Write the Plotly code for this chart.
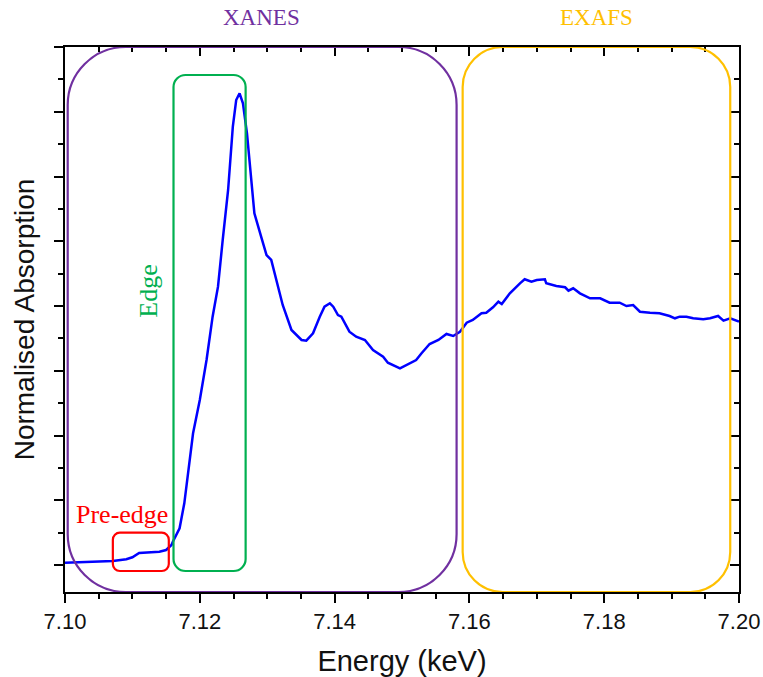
import plotly.graph_objects as go

# ---- data (energy in keV, normalised absorption) ----
energy = [7.1000, 7.1022, 7.1051, 7.1071, 7.1091, 7.1100, 7.1110, 7.1121, 7.1140, 7.1150,
          7.1158, 7.1160, 7.1170, 7.1177, 7.1185, 7.1190, 7.1200, 7.1210, 7.1219, 7.1227,
          7.1234, 7.1242, 7.1249, 7.1254, 7.1259, 7.1264, 7.1270, 7.1276, 7.1281, 7.1291,
          7.1299, 7.1306, 7.1314, 7.1323, 7.1336, 7.1351, 7.1358, 7.1368, 7.1378, 7.1385,
          7.1393, 7.1398, 7.1405, 7.1410, 7.1422, 7.1432, 7.1445, 7.1457, 7.1472, 7.1479,
          7.1497, 7.1512, 7.1521, 7.1529, 7.1541, 7.1554, 7.1566, 7.1576, 7.1586, 7.1596,
          7.1605, 7.1618, 7.1625, 7.1635, 7.1643, 7.1648, 7.1660, 7.1675, 7.1682, 7.1692,
          7.1700, 7.1712, 7.1714, 7.1729, 7.1742, 7.1747, 7.1754, 7.1764, 7.1779, 7.1794,
          7.1808, 7.1823, 7.1833, 7.1843, 7.1853, 7.1868, 7.1882, 7.1897, 7.1905, 7.1912,
          7.1922, 7.1932, 7.1947, 7.1957, 7.1969, 7.1977, 7.1987, 7.2000]
absorption = [0.0071, 0.0083, 0.0108, 0.0124, 0.0176, 0.0238, 0.0371, 0.0380, 0.0411, 0.0463,
              0.0618, 0.0720, 0.1134, 0.1906, 0.3141, 0.4068, 0.5097, 0.6332, 0.7670, 0.8596,
              1.0039, 1.1583, 1.3538, 1.4363, 1.4570, 1.4261, 1.3334, 1.1994, 1.0863, 1.0141,
              0.9575, 0.9421, 0.8803, 0.8031, 0.7259, 0.6950, 0.6928, 0.7157, 0.7670, 0.7978,
              0.8083, 0.7978, 0.7722, 0.7670, 0.7206, 0.7052, 0.6950, 0.6641, 0.6434, 0.6249,
              0.6076, 0.6230, 0.6332, 0.6539, 0.6826, 0.6950, 0.7135, 0.7073, 0.7206, 0.7484,
              0.7568, 0.7775, 0.7793, 0.7960, 0.8133, 0.8062, 0.8392, 0.8701, 0.8825, 0.8751,
              0.8803, 0.8825, 0.8701, 0.8618, 0.8578, 0.8473, 0.8547, 0.8392, 0.8238, 0.8238,
              0.8102, 0.8102, 0.8000, 0.8031, 0.7824, 0.7793, 0.7775, 0.7691, 0.7620, 0.7670,
              0.7670, 0.7620, 0.7589, 0.7620, 0.7691, 0.7546, 0.7620, 0.7515]

region_labels = ["XANES", "EXAFS", "Edge", "Pre-edge"]
x_tickvals = [7.10, 7.12, 7.14, 7.16, 7.18, 7.20]
x_ticktext = ["7.10", "7.12", "7.14", "7.16", "7.18", "7.20"]

# ---- layout geometry ----
XR = [7.10, 7.20]
YR = [-0.0834, 1.6]
PX_X = 673.5 / 0.1      # px per keV
PX_Y = 545.0 / (YR[1] - YR[0])  # px per unit


def rounded_rect(x0, x1, y0, y1, r):
    rx = r / PX_X
    ry = r / PX_Y
    k = 0.5523
    p = [f"M {x0 + rx},{y1}", f"L {x1 - rx},{y1}",
         f"C {x1 - rx + k * rx},{y1} {x1},{y1 - ry + k * ry} {x1},{y1 - ry}",
         f"L {x1},{y0 + ry}",
         f"C {x1},{y0 + ry - k * ry} {x1 - rx + k * rx},{y0} {x1 - rx},{y0}",
         f"L {x0 + rx},{y0}",
         f"C {x0 + rx - k * rx},{y0} {x0},{y0 + ry - k * ry} {x0},{y0 + ry}",
         f"L {x0},{y1 - ry}",
         f"C {x0},{y1 - ry + k * ry} {x0 + rx - k * rx},{y1} {x0 + rx},{y1}", "Z"]
    return " ".join(p)


fig = go.Figure()
fig.add_trace(go.Scatter(x=energy, y=absorption, mode="lines",
                         line=dict(color="#0000ff", width=2.5), showlegend=False,
                         hoverinfo="skip"))
# dummy trace for mirrored (inside-tick) axes
fig.add_trace(go.Scatter(x=[XR[0]], y=[YR[0]], xaxis="x2", yaxis="y2", mode="markers",
                         marker=dict(opacity=0), showlegend=False, hoverinfo="skip"))

boxes = [
    (7.1004, 7.1581, YR[0], YR[1], 58, "#7030a0"),
    (7.1590, 7.1987, YR[0], YR[1], 40, "#ffc000"),
    (7.1161, 7.1268, -0.0185, 1.5135, 12, "#00b050"),
    (7.1071, 7.1154, -0.0185, 0.0998, 7, "#ff0000"),
]
shapes = []
for x0, x1, y0, y1, r, c in boxes:
    shapes.append(dict(type="path", xref="x", yref="y", path=rounded_rect(x0, x1, y0, y1, r),
                       line=dict(color=c, width=2.2), layer="above"))

serif = "Liberation Serif"
annotations = [
    dict(text=region_labels[0], x=7.1292, y=1.055, xref="x", yref="paper", showarrow=False,
         yanchor="middle", xanchor="center",
         font=dict(family=serif, size=23, color="#7030a0")),
    dict(text=region_labels[1], x=7.1788, y=1.055, xref="x", yref="paper", showarrow=False,
         yanchor="middle", xanchor="center",
         font=dict(family=serif, size=23, color="#ffc000")),
    dict(text=region_labels[2], x=7.1124, y=0.846, xref="x", yref="y", showarrow=False,
         yanchor="middle", xanchor="center",
         textangle=-90, font=dict(family=serif, size=26, color="#00b050")),
    dict(text=region_labels[3], x=7.1084, y=0.1575, xref="x", yref="y", showarrow=False,
         yanchor="middle", xanchor="center",
         font=dict(family=serif, size=26, color="#ff0000")),
]

sans = "Liberation Sans"
fig.update_layout(
    width=763, height=677,
    margin=dict(l=65, r=24, t=47, b=85),
    plot_bgcolor="white", paper_bgcolor="white",
    shapes=shapes, annotations=annotations,
    xaxis=dict(range=XR, tickvals=x_tickvals, ticktext=x_ticktext, ticks="outside",
               ticklen=9, tickwidth=2, tickcolor="black", showline=True, linewidth=2,
               linecolor="black", showgrid=False, zeroline=False, automargin=False,
               tickfont=dict(family=sans, size=22, color="#111"),
               minor=dict(dtick=0.005, ticks="outside", ticklen=5, tickwidth=2,
                          tickcolor="black", showgrid=False),
               title=dict(text="Energy (keV)", font=dict(family=sans, size=29, color="#111"),
                          standoff=17)),
    yaxis=dict(range=YR, tick0=0, dtick=0.2, ticks="outside", ticklen=9, tickwidth=2,
               tickcolor="black", showticklabels=False, showline=True, linewidth=2,
               linecolor="black", showgrid=False, zeroline=False, automargin=False,
               minor=dict(dtick=0.1, ticks="outside", ticklen=5, tickwidth=2,
                          tickcolor="black", showgrid=False),
               title=dict(text="Normalised Absorption",
                          font=dict(family=sans, size=28, color="#111"), standoff=11)),
    xaxis2=dict(range=XR, overlaying="x", side="top", tickvals=x_tickvals, ticks="inside",
                ticklen=9, tickwidth=2, tickcolor="black", showticklabels=False,
                automargin=False,
                showline=True, linewidth=2, linecolor="black", showgrid=False, zeroline=False,
                minor=dict(dtick=0.005, ticks="inside", ticklen=5, tickwidth=2,
                           tickcolor="black", showgrid=False)),
    yaxis2=dict(range=YR, overlaying="y", side="right", tick0=0, dtick=0.2, ticks="inside",
                ticklen=9, tickwidth=2, tickcolor="black", showticklabels=False,
                automargin=False,
                showline=True, linewidth=2, linecolor="black", showgrid=False, zeroline=False,
                minor=dict(dtick=0.1, ticks="inside", ticklen=5, tickwidth=2,
                           tickcolor="black", showgrid=False)),
)

fig.write_html("out.html")
